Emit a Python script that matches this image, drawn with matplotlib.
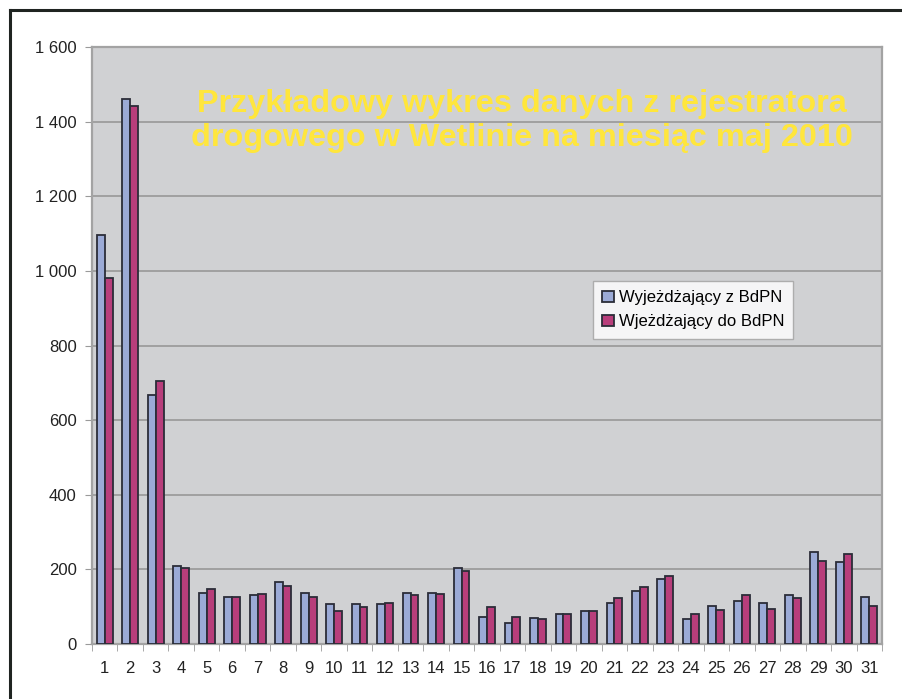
import matplotlib.pyplot as plt
import numpy as np
from matplotlib.lines import Line2D

BG = "#FFFFFF"
PANEL_BG = "#D0D1D3"
GRID = "#9C9C9C"
EDGE = "#2B2D38"
TEXT = "#222222"
BLUE = "#9BAAD6"
PINK = "#B83E7B"
TITLE_COLOR = "#FFE63C"

days = list(range(1, 32))
wyjezdzajacy_z = [1096, 1460, 666, 209, 137, 127, 131, 167, 137, 106,
                  106, 106, 137, 138, 203, 73, 56, 69, 81, 88,
                  109, 142, 174, 66, 102, 114, 109, 131, 246, 220, 127]
wjezdzajacy_do = [982, 1442, 706, 205, 147, 127, 135, 156, 127, 88,
                  98, 109, 130, 135, 196, 98, 73, 66, 81, 88,
                  123, 152, 181, 81, 92, 131, 94, 123, 223, 241, 102]
y_ticks = [0, 200, 400, 600, 800, 1000, 1200, 1400, 1600]
labels = ["Wyjeżdżający z BdPN", "Wjeżdżający do BdPN"]
title = "Przykładowy wykres danych z rejestratora\ndrogowego w Wetlinie na miesiąc maj 2010"

plt.rcParams["font.family"] = ["Liberation Sans", "DejaVu Sans"]

fig = plt.figure(figsize=(9.03, 6.99), dpi=100)
fig.patch.set_facecolor(BG)
ax = fig.add_axes([92 / 903, 55 / 699, 790 / 903, 597 / 699])
ax.set_facecolor(PANEL_BG)

x = np.array(days)
w = 0.31
ax.bar(x - w / 2, wyjezdzajacy_z, width=w, color=BLUE, edgecolor=EDGE, linewidth=1.3,
       label=labels[0], zorder=3)
ax.bar(x + w / 2, wjezdzajacy_do, width=w, color=PINK, edgecolor=EDGE, linewidth=1.3,
       label=labels[1], zorder=3)

ax.set_xlim(0.5, 31.5)
ax.set_ylim(0, 1600)
ax.set_yticks(y_ticks)
ax.set_yticklabels([f"{v:,}".replace(",", " ") for v in y_ticks])
ax.set_xticks(x)
ax.set_xticklabels([str(d) for d in days])
ax.set_xticks(np.arange(0.5, 32, 1), minor=True)
ax.tick_params(axis="x", which="major", length=0, pad=12, labelsize=12, colors=TEXT)
ax.tick_params(axis="x", which="minor", length=5, color="#9A9A9A", direction="out")
ax.tick_params(axis="y", length=5, color="#9A9A9A", labelsize=12, colors=TEXT, pad=6)
ax.yaxis.grid(True, color=GRID, linewidth=1.3, zorder=0)
for spine in ax.spines.values():
    spine.set_color("#A3A3A3")
    spine.set_linewidth(1.6)

ax.text(0.544, 0.876, title, transform=ax.transAxes, ha="center", va="center",
        fontsize=23.3, fontweight="bold", color=TITLE_COLOR, linespacing=1.16, zorder=4)

leg = ax.legend(loc="upper left", bbox_to_anchor=(0.634, 0.608), borderaxespad=0,
                fontsize=12, frameon=True, fancybox=False, edgecolor="#A0A0A0",
                handlelength=0.7, handleheight=0.7, handletextpad=0.3,
                labelspacing=0.55, borderpad=0.55)
leg.get_frame().set_facecolor("white")
leg.get_frame().set_linewidth(1.0)

# outer chart frame (top and left edges visible)
fig.add_artist(Line2D([10 / 903, 1.0], [1 - 10 / 699, 1 - 10 / 699], color="#1F2421", linewidth=2.2))
fig.add_artist(Line2D([10 / 903, 10 / 903], [0.0, 1 - 10 / 699], color="#1F2421", linewidth=2.2))

fig.savefig("out.png", dpi=100, facecolor=BG)
